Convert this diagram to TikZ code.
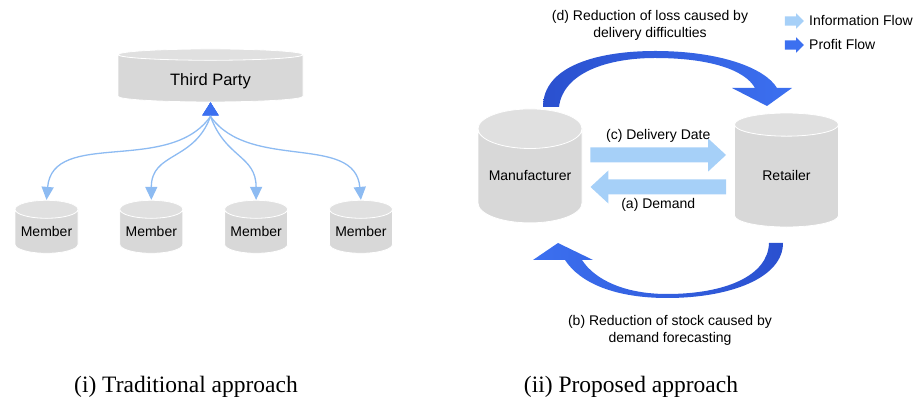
\documentclass[tikz,border=0pt]{standalone}
\usepackage{fontspec}
\setmainfont{Liberation Serif}
\setsansfont{Liberation Sans}
\usetikzlibrary{shapes.geometric, shapes.arrows, arrows.meta, positioning, calc}

\definecolor{cylgray}{HTML}{D8D8D8}
\definecolor{infoblue}{HTML}{A6D0F8}
\definecolor{linkblue}{HTML}{8DBBF2}
\definecolor{profitblue}{HTML}{3C70F0}
\definecolor{profitdark}{HTML}{2A50CF}

\begin{document}
\begin{tikzpicture}[
        x=1pt, y=1pt,
        store/.style={cylinder, shape border rotate=90, draw=white, line width=0.8pt,
            cylinder uses custom fill, cylinder body fill=cylgray,
            cylinder end fill=cylgray!80!white, inner sep=0pt},
        member/.style={store, minimum width=63pt, minimum height=53pt, aspect=0.35,
            font=\sffamily\fontsize{14}{16}\selectfont},
        party/.style={store, minimum width=185pt, minimum height=53pt, aspect=0.14,
            text height=18pt, text depth=3.5pt, font=\sffamily\fontsize{16.5}{19}\selectfont},
        actor/.style={store, minimum width=104pt, minimum height=114pt, aspect=0.48,
            font=\sffamily\fontsize{14}{16}\selectfont},
        label/.style={font=\sffamily\fontsize{14}{17}\selectfont, align=center, inner sep=0pt},
        caption/.style={font=\fontsize{23.5}{27}\selectfont, inner sep=0pt},
        link/.style={draw=linkblue, line width=1.3pt,
            {Triangle[length=13pt, width=16pt, color=profitblue]}-{Triangle[length=13pt, width=12pt]}},
        info/.style={draw=infoblue, line width=15pt, -{Triangle[length=18pt, width=32pt]}},
        icon/.style={single arrow, minimum height=19pt, inner sep=4.5pt,
            single arrow head extend=3pt}
    ]
        \useasboundingbox (0,0) rectangle (919,398);

        % (i) Traditional approach
        \node[party] (third) at (210.5, 319.5) {Third Party};
        \node[member] (m1) at (46.5, 166.5) {Member};
        \node[member, right=41pt of m1] (m2) {Member};
        \node[member, right=41pt of m2] (m3) {Member};
        \node[member, right=41pt of m3] (m4) {Member};

        \draw[link] (third.south) -- ++(0,-14) to[out=-125, in=85] (m1.north);
        \draw[link] (third.south) -- ++(0,-14) to[out=-110, in=90, looseness=1.2] (m2.north);
        \draw[link] (third.south) -- ++(0,-14) to[out=-70, in=90, looseness=1.2] (m3.north);
        \draw[link] (third.south) -- ++(0,-14) to[out=-55, in=95] (m4.north);

        \node[caption] (capi) at (186, 11) {(i) Traditional approach};

        % (ii) Proposed approach
        \node[actor] (manu) at (530, 222) {Manufacturer};
        \node[actor] (retail) at (786.5, 222) {Retailer};

        \draw[info] ([xshift=8pt, yshift=21pt]manu.east) -- ([xshift=-8pt, yshift=21pt]retail.west)
            node[label, midway, above=5pt] (c) {(c) Delivery Date};
        \draw[info] ([xshift=-8pt, yshift=-11pt]retail.west) -- ([xshift=8pt, yshift=-11pt]manu.east)
            node[label, midway, below=4pt] (a) {(a) Demand};

        % profit flows
        \shade[left color=profitdark, right color=profitblue]
            (543,291) .. controls (543,333) and (600,347) .. (655,347)
            .. controls (720,347) and (765,330) .. (777,310) -- (792,310) -- (767,292) -- (732,310)
            -- (755,310) .. controls (745,328) and (710,340) .. (655,340)
            .. controls (607,340) and (563,325) .. (559,291) -- cycle;
        \shade[left color=profitblue, right color=profitdark]
            (783,155) .. controls (783,120) and (730,100) .. (667,100)
            .. controls (615,100) and (580,115) .. (565,138) -- (533,138) -- (558,155) -- (593,138)
            -- (582,138) .. controls (595,118) and (625,104) .. (667,104)
            .. controls (725,104) and (768,122) .. (769,155) -- cycle;

        \node[label] (d) at (650, 373) {(d) Reduction of loss caused by\\delivery difficulties};
        \node[label] (b) at (670, 68) {(b) Reduction of stock caused by\\demand forecasting};

        % legend
        \node[icon, fill=infoblue] (iinfo) at (792, 377) {};
        \node[icon, fill=profitblue] (iprofit) at (792, 353) {};
        \node[label, anchor=west] at (809, 377) {Information Flow};
        \node[label, anchor=west] at (809, 353) {Profit Flow};

        \node[caption] (capii) at (631, 11) {(ii) Proposed approach};
    \end{tikzpicture}
\end{document}
